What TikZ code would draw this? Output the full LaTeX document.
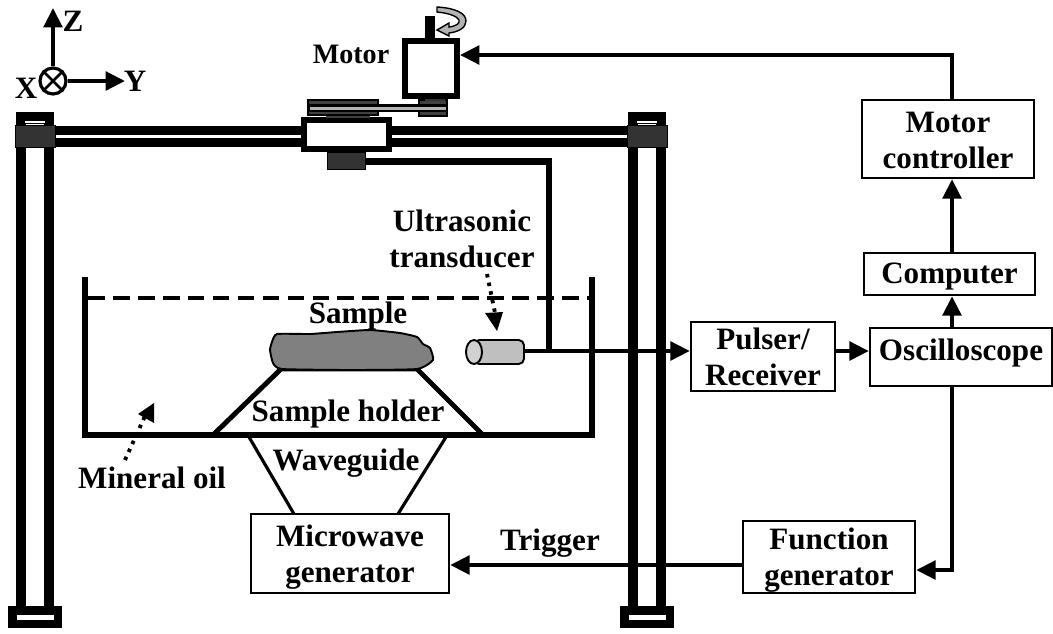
\documentclass[tikz,border=0pt]{standalone}
\usepackage{fontspec}
\setmainfont{Liberation Serif}
\usetikzlibrary{arrows.meta}
\tikzset{
    blockbox/.style={draw, line width=1.4pt, align=center, inner sep=0pt, font=\fontsize{17.7}{20.5}\selectfont\bfseries},
    labeltext/.style={align=center, inner sep=0pt, font=\fontsize{17.7}{20.5}\selectfont\bfseries},
    arrowline/.style={line width=2.3pt, -{Triangle[length=11pt,width=10.5pt]}},
    dotline/.style={line width=2.2pt, dash pattern=on 2pt off 3pt},
}
\begin{document}
\begin{tikzpicture}[x=0.02cm,y=-0.02cm]
    \useasboundingbox (0,0) rectangle (1053,633);

    % Axes
    \node[draw, circle, line width=1.8pt, minimum size=0.52cm, inner sep=0pt] (xaxis) at (53,81) {};
    \draw[line width=1.5pt] (xaxis.north west) -- (xaxis.south east);
    \draw[line width=1.5pt] (xaxis.north east) -- (xaxis.south west);
    \coordinate (ztip) at (53,8);
    \coordinate (ytip) at (125,81);
    \draw[arrowline] (xaxis) -- (ztip);
    \draw[arrowline] (xaxis) -- (ytip);
    \node[labeltext] (zlabel) at (73,21) {Z};
    \node[labeltext] (ylabel) at (135,81) {Y};
    \node[labeltext] (xlabel) at (26,88) {X};

    % Frame: rails
    \fill (54,126) rectangle (630,135);
    \fill (54,138) rectangle (630,147);

    % Frame: columns
    \foreach \colx/\footx in {16/8,628/620} {
        \fill (\colx,112) rectangle ++(38,12);
        \fill[white] (\colx+9,121) rectangle ++(20,2);
        \fill (\colx,124) rectangle ++(10,484);
        \fill (\colx+28,124) rectangle ++(10,484);
        \fill (\footx,606) rectangle ++(54,22);
        \fill[white] (\footx+9,615) rectangle ++(37,5);
        \fill[black!80, draw=black] (\colx-1,125) rectangle ++(40,22);
    }

    % Carriage
    \draw[line width=3.4pt, fill=white] (304,120) rectangle (389,149);
    \fill[black!80, draw=black] (327,152) rectangle (365,169);

    % Belt drive
    \fill[black!75] (326,114) rectangle (370,118);
    \draw[line width=0.8pt, fill=black!75] (308,100) rectangle (378,115);
    \draw[line width=0.8pt, fill=black!75] (419,100) rectangle (447,116);
    \fill[black!80] (425,97) rectangle (445,101);
    \fill (308,104) rectangle (448,112);
    \fill[black!30] (310,107) rectangle (446,110);

    % Motor
    \fill (425,16) rectangle (435,38);
    \node[draw, line width=3.4pt, minimum width=1.04cm, minimum height=1.1cm, inner sep=0pt] (motor) at (431,68.5) {};
    \node[labeltext, font=\fontsize{16}{20}\selectfont\bfseries] (motorlabel) at (351,54) {Motor};
    \draw[line width=0.8pt, fill=black!30] (437,7) .. controls (455,8) and (466,13) .. (466,21)
        .. controls (466,28) and (458,32) .. (449,33) -- (449,36) -- (437,30) -- (449,23) -- (449,27)
        .. controls (457,26) and (460,23) .. (459,20) .. controls (457,16) and (448,13) .. (437,12) -- cycle;

    % Tank
    \draw[line width=3.2pt] (85,277) -- (85,435) -- (592,435) -- (592,277);
    \draw[line width=2.6pt, dash pattern=on 9.5pt off 4.7pt] (88,298) -- (590,298);

    % Holder and waveguide
    \draw[line width=2.8pt] (213,435) -- (281,369) -- (417,369) -- (483,435);
    \draw[line width=1.8pt] (249,437) -- (294,514);
    \draw[line width=1.8pt] (446,437) -- (398,514);

    % Sample
    \draw[line width=1.1pt, fill=black!50] plot[smooth cycle, tension=0.3] coordinates {
        (270,350) (272,342) (277,334) (310,334) (337,332) (370,330) (400,333) (417,337) (423,344) (430,348) (433,360) (417,369) (350,370) (282,369) (273,363)};

    % Transducer
    \draw[line width=1.1pt, fill=black!25, rounded corners=3pt] (474,340) -- (524,340) -- (524,364) -- (474,364) -- cycle;
    \draw[line width=1.1pt, fill=black!18] (474,352) ellipse (8 and 12);
    \coordinate (transducer) at (525,351);

    % Cable to the clamp
    \coordinate (clamp) at (365,161.5);
    \coordinate (cablebend) at (549,161.5);
    \coordinate (cablefoot) at (549,351);
    \draw[line width=3.6pt, line join=miter] (clamp) -- (cablebend) -- (cablefoot);

    % Instruments
    \node[blockbox, minimum width=3.44cm, minimum height=1.56cm] (controller) at (948,139) {\rule{0pt}{13pt}Motor\\controller};
    \node[blockbox, minimum width=3.42cm, minimum height=0.84cm, text height=14pt, text depth=3.6pt] (computer) at (949.5,274) {Computer};
    \node[blockbox, minimum width=3.64cm, minimum height=1.16cm, text height=11.6pt, text depth=8pt] (oscilloscope) at (961,357) {Oscilloscope};
    \node[blockbox, minimum width=2.88cm, minimum height=1.38cm] (pulser) at (763,356.5) {Pulser/\\Receiver};
    \node[blockbox, minimum width=3.44cm, minimum height=1.44cm] (function) at (829,557) {\rule{0pt}{16pt}Function\\generator};
    \node[blockbox, minimum width=3.96cm, minimum height=1.58cm] (microwave) at (350,553.5) {\rule{0pt}{16pt}Microwave\\generator};

    % Signal lines
    \coordinate (trunk) at (952,0);
    \coordinate (sigline) at (0,351);
    \coordinate (trigline) at (0,565);
    \coordinate (fgline) at (0,570);
    \coordinate (motorline) at (0,55);
    \draw[arrowline] (transducer) -- (pulser.west |- sigline);
    \draw[arrowline] (pulser.east |- sigline) -- (oscilloscope.west |- sigline);
    \draw[arrowline] (oscilloscope.north -| trunk) -- (computer.south -| trunk);
    \draw[arrowline] (computer.north -| trunk) -- (controller.south -| trunk);
    \draw[arrowline] (controller.north -| trunk) -- (trunk |- motorline) -- (motor.east |- motorline);
    \draw[arrowline] (oscilloscope.south -| trunk) -- (trunk |- fgline) -- (function.east |- fgline);
    \draw[arrowline] (function.west |- trigline) -- (microwave.east |- trigline);

    % Labels
    \node[labeltext] (ultrasonic) at (462,239) {Ultrasonic\\transducer};
    \node[labeltext] (samplelabel) at (358,316) {Sample};
    \node[labeltext] (holderlabel) at (348,414) {Sample holder};
    \node[labeltext] (waveguide) at (346,463) {Waveguide};
    \node[labeltext] (oillabel) at (152,478) {Mineral oil};
    \node[labeltext] (trigger) at (550,543) {Trigger};

    % Pointers
    \coordinate (transstart) at (487,274);
    \coordinate (transhead) at (495,313);
    \coordinate (oilstart) at (125,460);
    \coordinate (oilhead) at (145,416);
    \draw[dotline] (transstart) -- (transhead);
    \fill (485,313) -- (503,312) -- (497,331) -- cycle;
    \draw[dotline] (oilstart) -- (oilhead);
    \fill (154,403) -- (154,423) -- (138,414) -- cycle;
\end{tikzpicture}
\end{document}
